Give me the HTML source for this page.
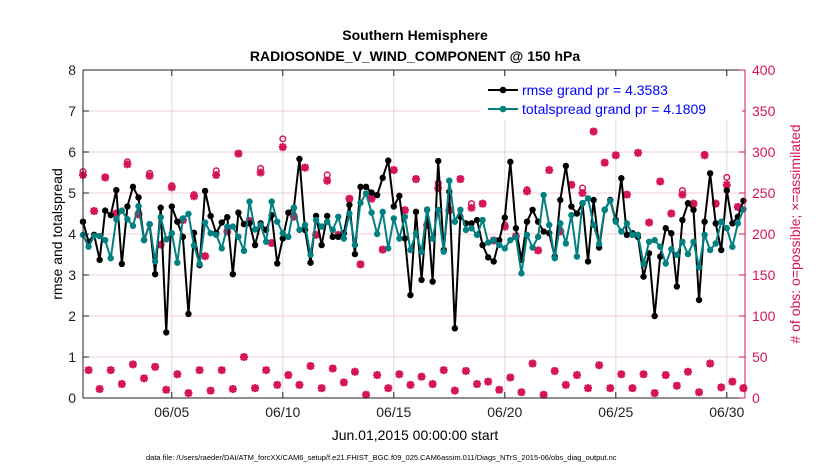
<!DOCTYPE html>
<html><head><meta charset="utf-8"><style>
html,body{margin:0;padding:0;background:#fff;}
svg text{font-family:"Liberation Sans",Arial,sans-serif;}
</style></head><body>
<svg id="chart" width="830" height="470" viewBox="0 0 830 470" xmlns="http://www.w3.org/2000/svg">
<rect width="830" height="470" fill="#fff"/>
<text x="415" y="40" text-anchor="middle" font-size="14" font-weight="bold">Southern Hemisphere</text>
<text x="415" y="61" text-anchor="middle" font-size="14" font-weight="bold">RADIOSONDE_V_WIND_COMPONENT @ 150 hPa</text>
<g id="grid"></g>
<g id="marks"></g>
<g id="axes"></g>
<g>
<rect x="480" y="78" width="262" height="42" fill="#fff"/>
<line x1="488" y1="90" x2="518" y2="90" stroke="#000" stroke-width="2"/>
<circle cx="503" cy="90" r="3.3" fill="#000"/>
<text x="522" y="95" font-size="14" fill="#0000ff">rmse grand pr = 4.3583</text>
<line x1="488" y1="109" x2="518" y2="109" stroke="#008080" stroke-width="2"/>
<circle cx="503" cy="109" r="3.3" fill="#008080"/>
<text x="522" y="114" font-size="14" fill="#0000ff">totalspread grand pr = 4.1809</text>
</g>
<text transform="translate(62,234) rotate(-90)" text-anchor="middle" font-size="14">rmse and totalspread</text>
<text transform="translate(800,234) rotate(-90)" text-anchor="middle" font-size="14" fill="#d6145a"># of obs: o=possible; ×=assimilated</text>
<text x="415" y="440" text-anchor="middle" font-size="14">Jun.01,2015 00:00:00 start</text>
<text x="146" y="460" font-size="7.5">data file: /Users/raeder/DAI/ATM_forcXX/CAM6_setup/f.e21.FHIST_BGC.f09_025.CAM6assim.011/Diags_NTrS_2015-06/obs_diag_output.nc</text>
</svg>
<script>
const xTickLabels = ["06/05","06/10","06/15","06/20","06/25","06/30"];
const xTickDays = [4,9,14,19,24,29];
const yLeftTicks = [0,1,2,3,4,5,6,7,8];
const yRightTicks = [0,50,100,150,200,250,300,350,400];
const rmse = [4.30,3.81,3.98,3.37,4.57,4.46,5.07,3.27,4.67,5.15,4.89,3.85,4.24,3.02,4.64,1.60,4.67,4.30,3.93,2.05,4.03,3.24,5.05,4.44,4.02,4.28,4.41,3.02,4.52,4.24,4.26,3.73,4.26,4.10,4.46,3.28,3.89,4.52,4.64,5.83,4.10,3.30,4.44,3.73,4.44,3.93,3.93,4.02,4.71,3.51,5.15,5.15,5.01,4.95,5.37,5.79,4.67,4.93,3.89,2.51,4.54,
2.88,4.59,2.84,5.78,3.61,5.03,1.70,4.42,4.26,4.26,4.34,3.73,3.43,3.33,3.85,4.40,5.76,4.14,3.37,4.30,4.59,4.30,4.06,4.02,3.45,4.83,5.66,4.67,4.50,4.75,3.33,4.83,3.67,4.59,4.83,4.34,5.36,3.98,4.02,3.93,2.96,3.53,2.00,3.45,4.14,4.02,2.72,4.34,4.75,4.59,2.39,4.30,5.48,4.26,3.61,5.06,4.26,4.42,4.81];
const spread = [3.98,3.69,3.95,3.95,3.85,3.41,4.36,4.57,4.36,4.20,4.68,3.85,4.24,3.33,4.41,3.87,4.02,3.30,4.38,4.49,3.72,3.27,4.28,4.02,3.98,3.65,4.18,4.18,3.93,3.59,4.79,4.11,4.22,3.81,4.79,4.30,4.02,3.93,4.64,4.10,4.22,3.49,4.34,4.18,4.30,4.10,4.42,3.89,4.50,3.73,4.76,4.99,4.52,4.00,4.54,3.65,4.38,3.89,4.42,3.61,4.02,
3.57,4.60,3.89,4.59,3.57,5.30,4.30,4.59,4.10,4.14,3.98,4.34,3.79,3.85,3.73,3.65,3.85,3.93,3.04,3.98,3.67,3.93,4.95,4.22,3.41,4.26,3.77,4.46,3.45,4.75,4.87,4.22,3.76,4.59,4.81,4.30,4.06,4.26,3.98,3.98,3.27,3.81,3.85,3.69,3.28,3.63,3.49,3.81,3.51,3.81,3.19,3.98,3.61,3.77,4.30,4.14,3.69,4.26,4.60];
const obsHigh = [272,228,269,225,285,224,271,187,257,217,246,173,272,203,298,216,275,189,306,221,281,199,265,199,243,163,243,181,278,229,267,
211,256,229,267,232,237,192,209,197,252,180,278,203,260,250,325,287,296,248,299,214,264,225,248,237,296,237,260,233];
const obsLow = [34,11,34,17,41,24,38,10,29,6,34,9,34,11,50,12,34,16,28,16,39,12,36,19,32,4,28,12,29,16,
26,17,34,9,33,17,20,10,25,7,42,4,33,16,28,12,40,12,29,12,29,6,28,15,32,7,42,13,20,12];
const possibleExtra = {0:4,8:3,12:3,16:2,20:2,24:5,32:5,36:10,44:7,52:2,64:6,70:5,76:2,80:2,90:6,108:5,112:1,116:9};

const L=83,R=745,T=70,B=398,D0=0,D1=29.82;
const xs=d=>L+(d-D0)/(D1-D0)*(R-L);
const yl=v=>B-v/8*(B-T);
const yr=v=>B-v/400*(B-T);
const NS="http://www.w3.org/2000/svg";
function mk(tag,attrs,parent){const e=document.createElementNS(NS,tag);for(const k in attrs)e.setAttribute(k,attrs[k]);parent.appendChild(e);return e;}
const grid=document.getElementById('grid'),marks=document.getElementById('marks'),axes=document.getElementById('axes');
const PINK="#d6145a";
yRightTicks.forEach((v,i)=>{if(i===0||i===yRightTicks.length-1)return;const g=mk('line',{x1:L,x2:R,y1:yr(v),y2:yr(v),stroke:"#f2cddb","stroke-width":1},grid);

});
xTickDays.forEach(d=>{const g=mk('line',{x1:xs(d),x2:xs(d),y1:T,y2:B,stroke:"#dcdcdc","stroke-width":1},grid);

});
// obs counts
const obs=[];
for(let i=0;i<rmse.length;i++){obs.push(i%2===0?obsHigh[i/2]:obsLow[(i-1)/2]);}
obs.forEach((c,i)=>{const x=xs(i*0.25);const p=c+(possibleExtra[i]||0);
const ci=mk('circle',{cx:x,cy:yr(p),r:2.8,fill:"none",stroke:PINK,"stroke-width":1.5},marks);


const y=yr(c);
const st=mk('path',{d:`M${x-4},${y}H${x+4}M${x},${y-4}V${y+4}M${x-3},${y-3}L${x+3},${y+3}M${x-3},${y+3}L${x+3},${y-3}`,stroke:PINK,"stroke-width":2.2},marks);

});
function series(vals,col,name){
const pts=vals.map((v,i)=>[xs(i*0.25),yl(v)]);
const pl=mk('polyline',{points:pts.map(p=>p.join(',')).join(' '),fill:"none",stroke:col,"stroke-width":2},marks);


pts.forEach(p=>{const c=mk('circle',{cx:p[0],cy:p[1],r:3.2,fill:col},marks);

});}
series(rmse,"#000","rmse");
series(spread,"#008080","totalspread");
// axes box
mk('line',{x1:L,x2:R,y1:T,y2:T,stroke:"#222","stroke-width":1},axes);
mk('line',{x1:L,x2:R,y1:B,y2:B,stroke:"#222","stroke-width":1},axes);
mk('line',{x1:L,x2:L,y1:T,y2:B,stroke:"#222","stroke-width":1},axes);
mk('line',{x1:R,x2:R,y1:T,y2:B,stroke:PINK,"stroke-width":1},axes);
yLeftTicks.forEach(v=>{mk('line',{x1:L,x2:L+6,y1:yl(v),y2:yl(v),stroke:"#222"},axes);
const t=mk('text',{x:L-7,y:yl(v)+5,"text-anchor":"end","font-size":14,fill:"#222"},axes);t.textContent=v;

});
yRightTicks.forEach(v=>{mk('line',{x1:R-6,x2:R,y1:yr(v),y2:yr(v),stroke:PINK},axes);
const t=mk('text',{x:R+7,y:yr(v)+5,"font-size":14,fill:PINK},axes);t.textContent=v;

});
xTickDays.forEach((d,i)=>{mk('line',{x1:xs(d),x2:xs(d),y1:B-6,y2:B,stroke:"#222"},axes);mk('line',{x1:xs(d),x2:xs(d),y1:T,y2:T+6,stroke:"#222"},axes);
const t=mk('text',{x:xs(d),y:B+19,"text-anchor":"middle","font-size":14,fill:"#222"},axes);t.textContent=xTickLabels[i];

});
</script>
</body></html>
